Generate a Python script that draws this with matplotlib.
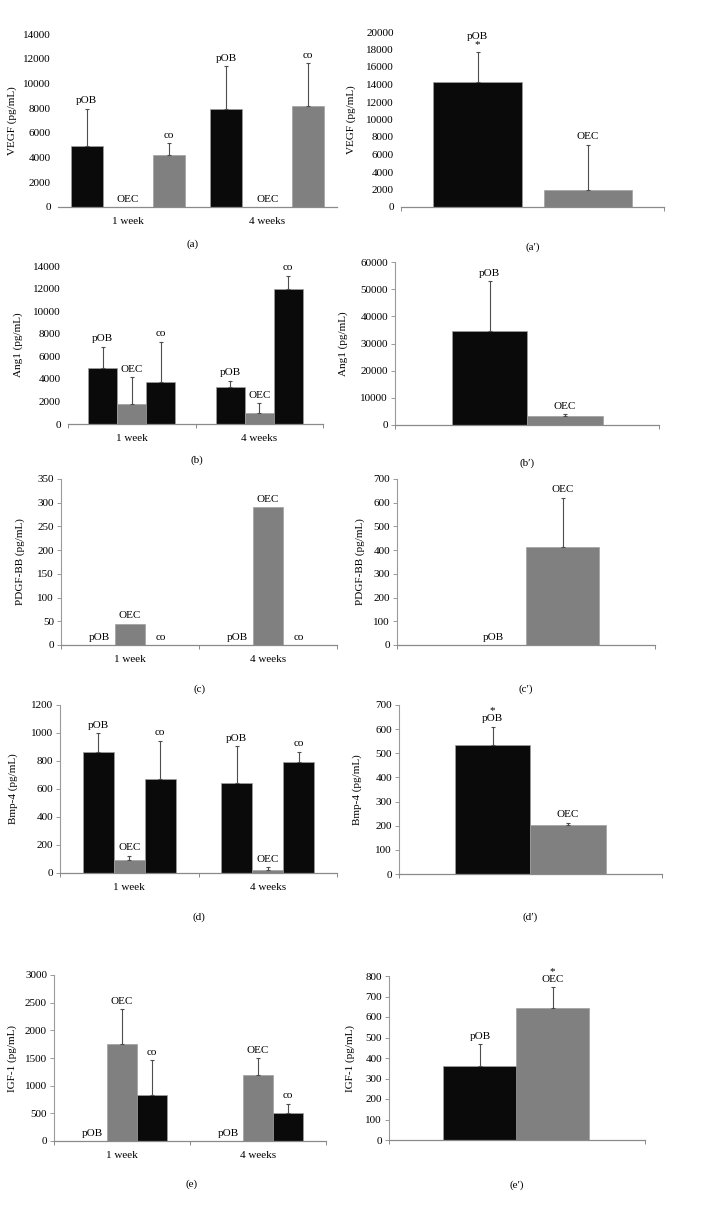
import matplotlib
matplotlib.use("Agg")
import matplotlib.pyplot as plt
import numpy as np

plt.rcParams['font.family'] = ['Liberation Serif', 'DejaVu Serif']
plt.rcParams['font.size'] = 8

W, H = 723, 1207
BLACK = '#0a0a0a'
GRAY = '#808080'

weeks = ['1 week', '4 weeks']
groups = ['pOB', 'OEC', 'co']

# ---- grouped panels (per week) ----
vegf_mean = {'pOB': [4950, 7900], 'OEC': [0, 0], 'co': [4200, 8200]}
vegf_sd = {'pOB': [3000, 3500], 'OEC': [0, 0], 'co': [950, 3450]}

ang1_mean = {'pOB': [5000, 3250], 'OEC': [1800, 950], 'co': [3700, 11950]}
ang1_sd = {'pOB': [1850, 600], 'OEC': [2350, 900], 'co': [3600, 1200]}

pdgf_mean = {'pOB': [0, 0], 'OEC': [45, 290], 'co': [0, 0]}
pdgf_sd = {'pOB': [0, 0], 'OEC': [0, 0], 'co': [0, 0]}

bmp4_mean = {'pOB': [865, 645], 'OEC': [95, 20], 'co': [670, 795]}
bmp4_sd = {'pOB': [135, 260], 'OEC': [30, 20], 'co': [275, 70]}

igf1_mean = {'pOB': [0, 0], 'OEC': [1760, 1200], 'co': [830, 510]}
igf1_sd = {'pOB': [0, 0], 'OEC': [620, 300], 'co': [630, 160]}

# ---- total panels ----
cells = ['pOB', 'OEC']
vegf_tot = [14300, 1950]
vegf_tot_sd = [3400, 5150]
ang1_tot = [34500, 3300]
ang1_tot_sd = [18500, 600]
pdgf_tot = [0, 415]
pdgf_tot_sd = [0, 205]
bmp4_tot = [535, 202]
bmp4_tot_sd = [75, 10]
igf1_tot = [362, 645]
igf1_tot_sd = [106, 100]

fig = plt.figure(figsize=(W / 100, H / 100), dpi=100)


def make_ax(left, right, top, bottom):
    return fig.add_axes([left / W, 1 - bottom / H, (right - left) / W, (bottom - top) / H])


def style(ax, ymax, step, show_spine, ylabel, ylab_x, left, right, xticks):
    ax.set_ylim(0, ymax)
    ax.set_yticks(np.arange(0, ymax + 1, step))
    for s in ['top', 'right']:
        ax.spines[s].set_visible(False)
    ax.spines['bottom'].set_color('#8a8a8a')
    ax.spines['bottom'].set_linewidth(0.9)
    if show_spine:
        ax.spines['left'].set_color('#9a9a9a')
        ax.spines['left'].set_linewidth(0.8)
        ax.tick_params(axis='y', length=3, width=0.7, color='#9a9a9a', pad=2, labelsize=8)
    else:
        ax.spines['left'].set_visible(False)
        ax.tick_params(axis='y', length=0, pad=5, labelsize=8)
    ax.tick_params(axis='x', length=3, width=0.7, color='#8a8a8a', labelsize=8, pad=3)
    ax.set_xticks(xticks)
    ax.set_xticklabels([])
    ax.set_ylabel(ylabel, fontsize=8)
    ax.yaxis.set_label_coords((ylab_x - left) / (right - left), 0.5)


def label(ax, x, y, txt):
    ax.annotate(txt, (x, y), xytext=(0, 2.5), textcoords='offset points',
                ha='center', va='bottom', fontsize=8, linespacing=0.85)


def grouped(box, mean, sd, colors, spacing, width, ymax, step, show_spine,
            ylabel, ylab_x, tag, tag_xy, xticks=(0, 1, 2)):
    left, right, top, bottom = box
    ax = make_ax(*box)
    ax.set_xlim(0, 2)
    centers = np.array([0.5, 1.5])
    for i, g in enumerate(groups):
        xs = centers + (i - 1) * spacing
        m = np.array(mean[g], float)
        e = np.array(sd[g], float)
        ax.bar(xs, m, width=width, color=colors[i], edgecolor='#a0a0a0', linewidth=0.5, zorder=2)
        mask = e > 0
        if mask.any():
            ax.errorbar(xs[mask], m[mask], yerr=[np.zeros(mask.sum()), e[mask]], fmt='none',
                        ecolor='#4d4d4d', elinewidth=0.8, capsize=1.6, capthick=0.8, zorder=3)
        for x, mm, ee in zip(xs, m, e):
            label(ax, x, mm + ee, g)
    style(ax, ymax, step, show_spine, ylabel, ylab_x, left, right, list(xticks))
    for c, w in zip(centers, weeks):
        ax.text(c, -0.055 * ymax * (173 / (bottom - top)), w, ha='center', va='top', fontsize=8)
    fig.text(tag_xy[0] / W, 1 - tag_xy[1] / H, tag, ha='center', va='center', fontsize=8)
    return ax


def total(box, vals, sd, centers, width, labels, ymax, step, show_spine,
          ylabel, ylab_x, tag, tag_xy):
    left, right, top, bottom = box
    ax = make_ax(*box)
    ax.set_xlim(0, 1)
    colors = [BLACK, GRAY]
    v = np.array(vals, float)
    e = np.array(sd, float)
    xs = np.array(centers)
    ax.bar(xs, v, width=width, color=colors, edgecolor='#a0a0a0', linewidth=0.5, zorder=2)
    mask = e > 0
    ax.errorbar(xs[mask], v[mask], yerr=[np.zeros(mask.sum()), e[mask]], fmt='none',
                ecolor='#4d4d4d', elinewidth=0.8, capsize=1.6, capthick=0.8, zorder=3)
    for x, vv, ee, t in zip(xs, v, e, labels):
        label(ax, x, vv + ee, t)
    style(ax, ymax, step, show_spine, ylabel, ylab_x, left, right, [0, 1])
    fig.text(tag_xy[0] / W, 1 - tag_xy[1] / H, tag, ha='center', va='center', fontsize=8)
    return ax


# (a)
grouped((58, 337, 34, 207), vegf_mean, vegf_sd, [BLACK, GRAY, GRAY], 0.294, 0.23,
        14000, 2000, False, 'VEGF (pg/mL)', 17, '(a)', (193, 244), xticks=[])
# (a')
total((401, 664, 32, 207), vegf_tot, vegf_tot_sd, [0.291, 0.711], 0.338,
      ['pOB\n*', 'OEC'], 20000, 2000, False, 'VEGF (pg/mL)', 356, '(a\u2032)', (533, 247))
# (b)
grouped((68, 323, 266, 424), ang1_mean, ang1_sd, [BLACK, GRAY, BLACK], 0.227, 0.227,
        14000, 2000, False, 'Ang1 (pg/mL)', 23, '(b)', (197, 460))
# (b')
total((395, 659, 262, 425), ang1_tot, ang1_tot_sd, [0.358, 0.644], 0.286,
      ['pOB', 'OEC'], 60000, 10000, True, 'Ang1 (pg/mL)', 348, '(b\u2032)', (527, 463))
# (c)
grouped((61, 337, 479, 645), pdgf_mean, pdgf_sd, [BLACK, GRAY, BLACK], 0.222, 0.222,
        350, 50, True, 'PDGF-BB (pg/mL)', 25, '(c)', (200, 689))
# (c')
total((397, 655, 479, 645), pdgf_tot, pdgf_tot_sd, [0.372, 0.642], 0.283,
      ['pOB', 'OEC'], 700, 100, True, 'PDGF-BB (pg/mL)', 365, '(c\u2032)', (526, 689))
# (d)
grouped((60, 337, 705, 873), bmp4_mean, bmp4_sd, [BLACK, GRAY, BLACK], 0.224, 0.224,
        1200, 200, True, 'Bmp-4 (pg/mL)', 18, '(d)', (199, 917))
# (d')
total((399, 662, 705, 874), bmp4_tot, bmp4_tot_sd, [0.356, 0.643], 0.287,
      ['*\npOB', 'OEC'], 700, 100, True, 'Bmp-4 (pg/mL)', 362, '(d\u2032)', (530, 917))
# (e)
grouped((54, 326, 975, 1141), igf1_mean, igf1_sd, [BLACK, GRAY, BLACK], 0.221, 0.221,
        3000, 500, True, 'IGF-1 (pg/mL)', 17, '(e)', (192, 1184))
# (e')
total((389, 645, 976, 1140), igf1_tot, igf1_tot_sd, [0.356, 0.639], 0.287,
      ['pOB', '*\nOEC'], 800, 100, True, 'IGF-1 (pg/mL)', 355, '(e\u2032)', (517, 1185))

fig.savefig('out.png', dpi=100, facecolor='white')
